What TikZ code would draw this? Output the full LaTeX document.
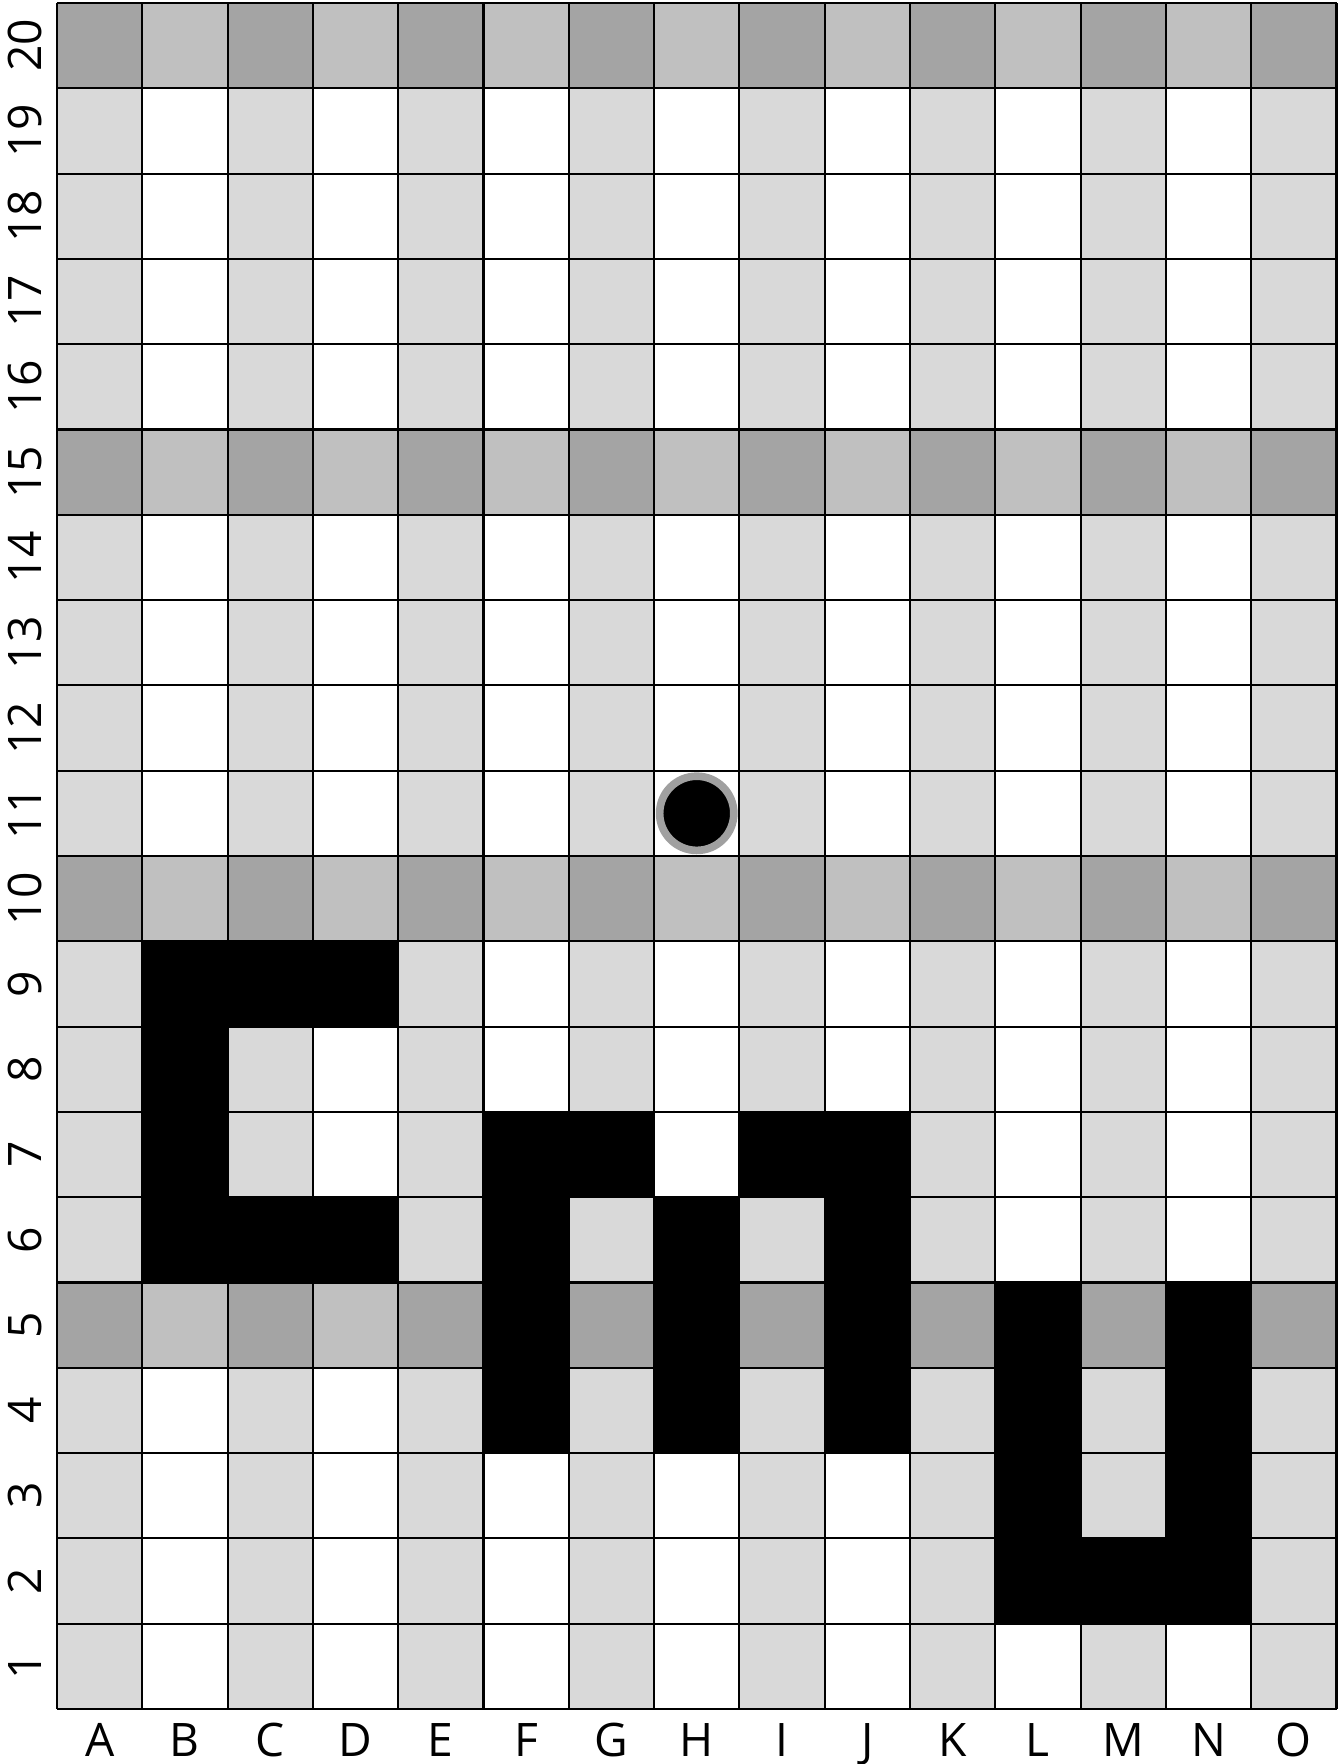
\documentclass[tikz,border=0pt]{standalone}
\usepackage{fontspec}
\setmainfont{Open Sans}
\definecolor{celllight}{HTML}{D9D9D9}
\definecolor{cellmid}{HTML}{C0C0C0}
\definecolor{celldark}{HTML}{A4A4A4}
\definecolor{ring}{HTML}{A0A0A0}
\begin{document}
\begin{tikzpicture}[x=1cm,y=1cm,
 lbl/.style={font=\fontsize{15.4}{18}\selectfont,inner sep=0pt},
 gridline/.style={line width=0.7pt,draw=black},
 ink/.style={fill=black}]
 \fill[white] (-0.668,-0.645) rectangle (15.012,20.035);
 \useasboundingbox (-0.668,-0.645) rectangle (15.012,20.035);
 % column shading
 \foreach \c in {0,2,...,14}
  \fill[celllight] (\c,0) rectangle ++(1,20);
 % every fifth row
 \foreach \r in {4,9,14,19}{
  \foreach \c in {0,2,...,14}
   \fill[celldark] (\c,\r) rectangle ++(1,1);
  \foreach \c in {1,3,...,13}
   \fill[cellmid] (\c,\r) rectangle ++(1,1);
 }
 \draw[gridline] (0,0) grid (15,20);
 % letters
 \fill[ink] (1,5) -- (4,5) -- (4,6) -- (2,6) -- (2,8) -- (4,8) -- (4,9) -- (1,9) -- cycle;
 \fill[ink] (5,3) -- (6,3) -- (6,6) -- (7,6) -- (7,7) -- (5,7) -- cycle;
 \fill[ink] (7,3) rectangle (8,6);
 \fill[ink] (8,6) -- (9,6) -- (9,3) -- (10,3) -- (10,7) -- (8,7) -- cycle;
 \fill[ink] (11,1) -- (14,1) -- (14,5) -- (13,5) -- (13,2) -- (12,2) -- (12,5) -- (11,5) -- cycle;
 % token
 \node[circle,fill=black,draw=ring,line width=0.09cm,minimum size=0.87cm,inner sep=0pt] (token) at (7.5,10.5) {};
 % labels
 \foreach \l [count=\i] in {A,B,C,D,E,F,G,H,I,J,K,L,M,N,O}
  \node[lbl,anchor=base] (col\i) at (\i-0.5,-0.56) {\l};
 \foreach \i in {1,...,20}
  \node[lbl,rotate=90] (row\i) at (-0.375,\i-0.5) {\i};
\end{tikzpicture}
\end{document}
